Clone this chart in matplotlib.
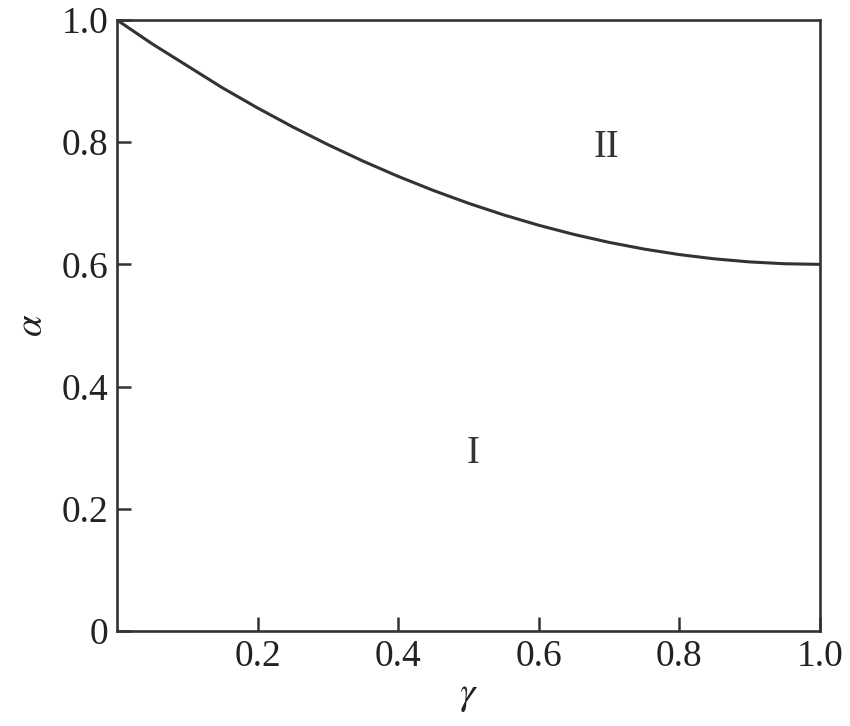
import numpy as np
import matplotlib
matplotlib.use("Agg")
from matplotlib import pyplot as plt

# boundary curve
gamma = [0.0, 0.05, 0.1, 0.15, 0.2, 0.25, 0.3, 0.35, 0.4, 0.45, 0.5,
         0.55, 0.6, 0.65, 0.7, 0.75, 0.8, 0.85, 0.9, 0.95, 1.0]
alpha = [1.0, 0.961, 0.925, 0.889, 0.856, 0.825, 0.796, 0.769, 0.744, 0.721, 0.700,
         0.681, 0.664, 0.649, 0.636, 0.625, 0.616, 0.609, 0.604, 0.601, 0.600]

xticks = [0.2, 0.4, 0.6, 0.8, 1.0]
xticklabels = ["0.2", "0.4", "0.6", "0.8", "1.0"]
yticks = [0, 0.2, 0.4, 0.6, 0.8, 1.0]
yticklabels = ["0", "0.2", "0.4", "0.6", "0.8", "1.0"]

plt.rcParams['font.family'] = ['Liberation Serif', 'DejaVu Serif']
plt.rcParams['mathtext.fontset'] = 'stix'
ink = "#333333"

fig = plt.figure(figsize=(8.5, 7.26), dpi=100)
ax = fig.add_axes([0.1376, 0.1309, 0.8271, 0.8416])

ax.plot(gamma, alpha, color=ink, lw=2.2)

ax.set_xlim(0, 1)
ax.set_ylim(0, 1)
ax.set_xticks(xticks)
ax.set_xticklabels(xticklabels)
ax.set_yticks(yticks)
ax.set_yticklabels(yticklabels)
ax.tick_params(direction='in', length=10, width=1.8, color=ink, labelsize=27,
               labelcolor="#222222", pad=6)
for s in ax.spines.values():
    s.set_linewidth(1.9)
    s.set_color(ink)

ax.set_xlabel(r"$\gamma$", fontsize=28, color="#222222", labelpad=2)
ax.set_ylabel(r"$\alpha$", fontsize=28, color="#222222", labelpad=8)

# region labels
ax.text(0.697, 0.792, "II", fontsize=28, color="#333333", ha='center', va='center')
ax.text(0.506, 0.291, "I", fontsize=28, color="#333333", ha='center', va='center')

fig.savefig("out.png", dpi=100)
